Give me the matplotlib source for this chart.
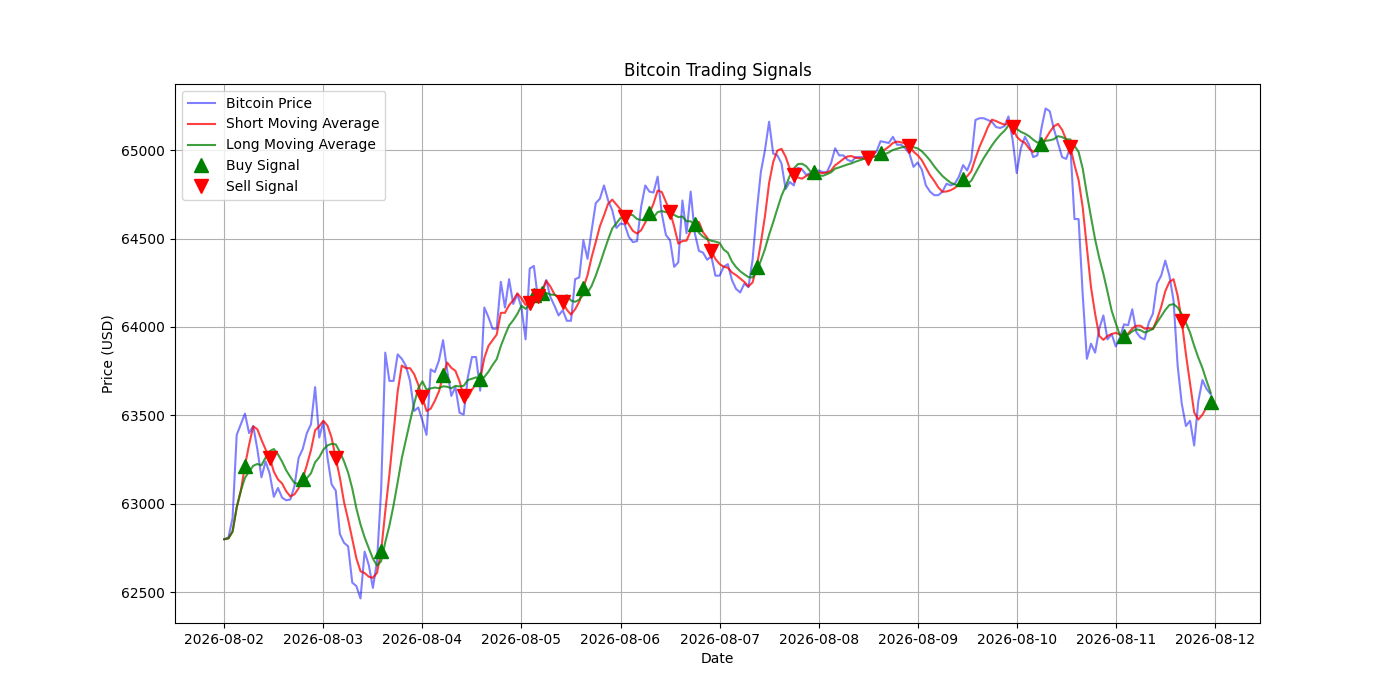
import matplotlib
matplotlib.use("Agg")
import matplotlib.pyplot as plt
import pandas as pd

start_date = "2026-08-02"

price = [
    62800, 62810, 62920, 63390, 63450, 63510, 63400, 63440, 63310, 63150,
    63240, 63170, 63040, 63090, 63035, 63020, 63025, 63100, 63260, 63310,
    63400, 63450, 63660, 63375, 63465, 63260, 63110, 63075, 62830, 62780,
    62760, 62555, 62535, 62465, 62730, 62655, 62525, 62675, 63080, 63855,
    63695, 63695, 63845, 63820, 63780, 63695, 63525, 63545, 63470, 63390,
    63760, 63745, 63810, 63925, 63755, 63610, 63660, 63515, 63505, 63715,
    63830, 63830, 63640, 64110, 64055, 63990, 63990, 64255, 64110, 64270,
    64130, 64185, 64110, 63930, 64330, 64345, 64160, 64205, 64265, 64170,
    64120, 64065, 64095, 64035, 64035, 64270, 64280, 64490, 64385, 64545,
    64700, 64725, 64800, 64715, 64660, 64560, 64585, 64580, 64510, 64480,
    64485, 64680, 64800, 64765, 64760, 64850, 64640, 64520, 64490, 64340,
    64365, 64715, 64530, 64765, 64530, 64430, 64420, 64380, 64400, 64290,
    64290, 64340, 64355, 64265, 64215, 64195, 64245, 64225, 64380, 64650,
    64875, 65000, 65160, 64980, 64970, 64925, 64780, 64820, 64800, 64900,
    64890, 64860, 64870, 64860, 64885, 64875, 64875, 64925, 65010, 64970,
    64970, 64945, 64935, 64960, 64960, 64960, 64955, 64970, 64990, 65050,
    65045, 65040, 65075, 65030, 65030, 65010, 64980, 64905, 64930, 64890,
    64800, 64765, 64745, 64745, 64765, 64810, 64800, 64810, 64850, 64915,
    64885, 64945, 65170, 65180, 65180, 65170, 65160, 65130, 65125, 65135,
    65190, 65060, 64870, 65010, 65075, 65030, 64960, 64970, 65125, 65235,
    65220, 65120, 65040, 64960, 64950, 65020, 64610, 64610, 64180, 63820,
    63905, 63855, 63990, 64065, 63930, 63960, 63890, 63940, 64015, 64010,
    64100, 63970, 63940, 63930, 64025, 64075, 64245, 64290, 64375, 64290,
    64150, 63780, 63565, 63440, 63470, 63330, 63580, 63700, 63650, 63620,
]

short_window = 5
long_window = 10

buy_idx = [5, 19, 38, 53, 62, 75, 77, 87, 103, 114, 129, 143, 159, 179, 198, 218, 239]
sell_idx = [11, 27, 48, 58, 74, 76, 82, 97, 108, 118, 138, 156, 166, 191, 205, 232]

dates = pd.date_range(start_date, periods=len(price), freq="h")
s = pd.Series(price, index=dates, dtype=float)
short_ma = s.rolling(short_window, min_periods=1).mean()
long_ma = s.rolling(long_window, min_periods=1).mean()

fig, ax = plt.subplots(figsize=(14, 7), dpi=100)
ax.plot(dates, s.values, color="blue", alpha=0.5, label="Bitcoin Price")
ax.plot(dates, short_ma.values, color="red", alpha=0.75, label="Short Moving Average")
ax.plot(dates, long_ma.values, color="green", alpha=0.75, label="Long Moving Average")
ax.plot(dates[buy_idx], short_ma.values[buy_idx], "^", markersize=10, color="g",
        linestyle="None", label="Buy Signal")
ax.plot(dates[sell_idx], short_ma.values[sell_idx], "v", markersize=10, color="r",
        linestyle="None", label="Sell Signal")

ax.set_title("Bitcoin Trading Signals")
ax.set_xlabel("Date")
ax.set_ylabel("Price (USD)")
ax.legend(loc="upper left")
ax.grid(True)

fig.savefig("out.png", dpi=100)
